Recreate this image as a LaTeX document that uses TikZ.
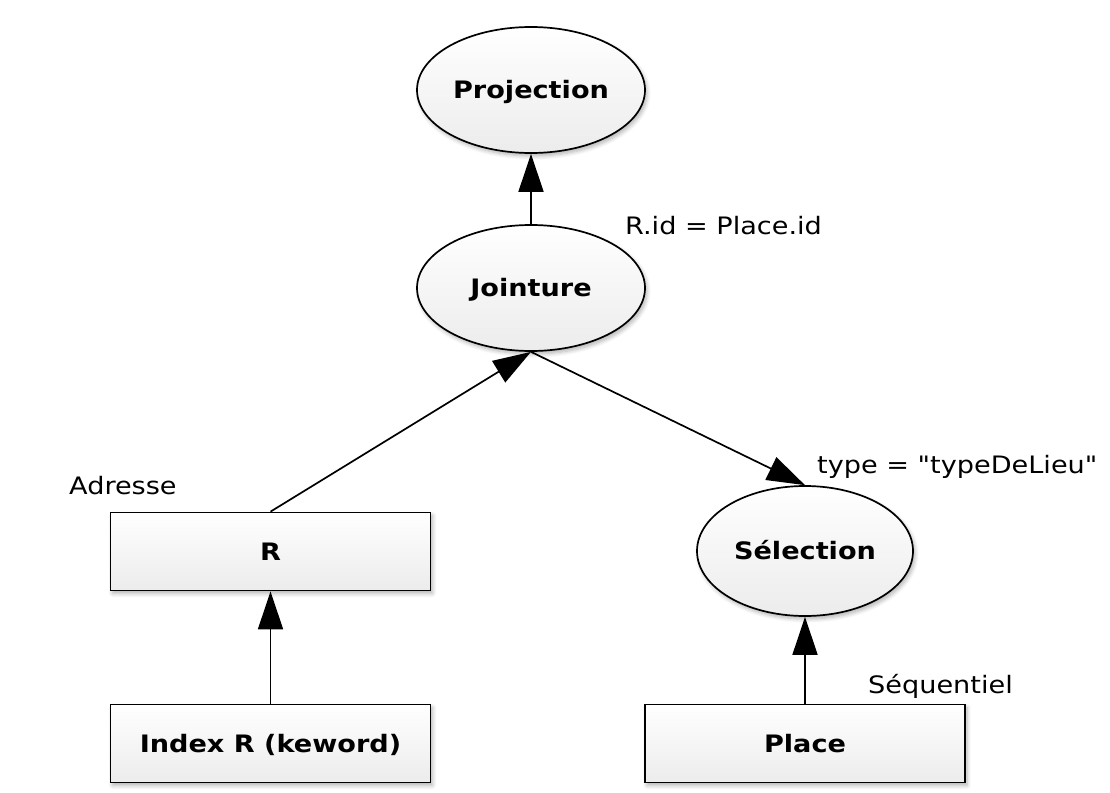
\documentclass[tikz,border=0pt]{standalone}
\usepackage{fontspec}
\setmainfont{DejaVu Sans}[FakeStretch=1.13, Ligatures=TeXOff]
\usetikzlibrary{shapes.geometric,arrows.meta,shadows.blur}
\begin{document}
\begin{tikzpicture}[x=1pt,y=-1pt,
  base/.style={draw=black, line width=1.7pt, top color=white, bottom color=gray!15,
    blur shadow={shadow xshift=2pt, shadow yshift=-3pt, shadow blur steps=6, shadow blur radius=4pt, shadow opacity=30},
    font=\fontsize{24}{28}\selectfont\bfseries, inner sep=0pt, text height=17.5pt, text depth=0pt},
  op/.style={base, ellipse, minimum width=228pt, minimum height=126pt},
  tbl/.style={base, rectangle, minimum width=320pt, minimum height=78pt},
  lbl/.style={font=\fontsize{24}{28}\selectfont, anchor=base west, inner sep=0pt},
  arr/.style={line width=1.7pt, -{Triangle[length=38pt,width=25pt]}}
]
\useasboundingbox (0,0) rectangle (1110,792);
\node[op] (P) at (531,90) {Projection};
\node[op] (J) at (531,288) {Jointure};
\node[op, minimum width=216pt, minimum height=130pt] (S) at (805,551) {Sélection};
\node[tbl] (R) at (270.5,551.5) {R};
\node[tbl] (I) at (270.5,743.5) {Index R (keword)};
\node[tbl] (Pl) at (805,743.5) {Place};

\node[lbl] (l1) at (625,234) {R.id = Place.id};
\node[lbl] (l2) at (817,473) {type = "typeDeLieu"};
\node[lbl] (l3) at (69,494) {Adresse};
\node[lbl] (l4) at (868,693) {Séquentiel};

\draw[arr] (J.north) -- (P.south);
\draw[arr] (R.north) -- (J.south);
\draw[arr] (J.south) -- (S.north);
\draw[arr] (I.north) -- (R.south);
\draw[arr] (Pl.north) -- (S.south);
\end{tikzpicture}
\end{document}
